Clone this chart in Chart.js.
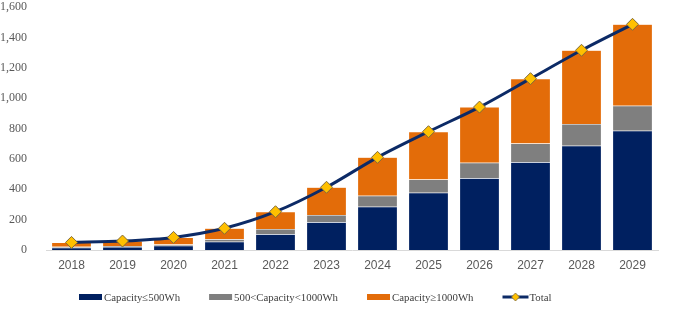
<!DOCTYPE html>
<html>
<head>
<meta charset="utf-8">
<script src="https://cdn.jsdelivr.net/npm/chart.js@4"></script>
<style>
  html, body { margin: 0; padding: 0; background: #fff; }
  #wrap { width: 681px; height: 322px; }
</style>
</head>
<body>
<div id="wrap"><canvas id="chart"></canvas></div>
<script>
const years = ['2018','2019','2020','2021','2022','2023','2024','2025','2026','2027','2028','2029'];
const small = [15, 20, 28, 55, 103, 182, 285, 377, 472, 577, 687, 785];
const medium = [7, 6, 9, 15, 35, 48, 72, 88, 103, 125, 143, 165];
const large = [28, 33, 46, 73, 114, 183, 253, 314, 366, 426, 485, 536];
const total = [50, 59, 83, 143, 252, 413, 610, 779, 941, 1128, 1315, 1486];

const NAVY = '#002060', GREY = '#7f7f7f', ORANGE = '#e36c09', LINE = '#0c2a66', GOLD = '#ffc000';

// legend drawn by hand so the spacing matches the original
const bottomLegend = {
  id: 'bottomLegend',
  afterDraw(chart) {
    const ctx = chart.ctx;
    const y = 297;
    let x = 79;
    ctx.save();
    ctx.font = '10.8px "Liberation Serif"';
    ctx.textBaseline = 'middle';
    [1, 2, 3, 0].forEach(i => {
      const ds = chart.data.datasets[i];
      if (ds.type === 'line') {
        ctx.strokeStyle = LINE; ctx.lineWidth = 3;
        ctx.beginPath(); ctx.moveTo(x, y); ctx.lineTo(x + 26, y); ctx.stroke();
        ctx.fillStyle = GOLD; ctx.strokeStyle = '#7f6a3a'; ctx.lineWidth = 0.8;
        ctx.beginPath();
        ctx.moveTo(x + 13, y - 4); ctx.lineTo(x + 17, y); ctx.lineTo(x + 13, y + 4); ctx.lineTo(x + 9, y);
        ctx.closePath(); ctx.fill(); ctx.stroke();
        x += 27;
      } else {
        ctx.fillStyle = ds.backgroundColor;
        ctx.fillRect(x, y - 3, 23, 6);
        x += 25;
      }
      ctx.fillStyle = '#404040';
      ctx.fillText(ds.label, x, y + 1);
      x += ctx.measureText(ds.label).width + 29;
    });
    ctx.restore();
  }
};

new Chart(document.getElementById('chart'), {
  data: {
    labels: years,
    datasets: [
      {
        type: 'line',
        label: 'Total',
        data: total,
        borderColor: LINE,
        borderWidth: 3,
        tension: 0.3,
        pointStyle: 'rectRot',
        pointRadius: 6,
        pointBackgroundColor: GOLD,
        pointBorderColor: '#7f6a3a',
        pointBorderWidth: 1,
        order: 0
      },
      { type: 'bar', label: 'Capacity≤500Wh', data: small, backgroundColor: NAVY, borderColor: 'rgba(255,255,255,0.5)', borderWidth: 0.5, stack: 's', order: 1 },
      { type: 'bar', label: '500<Capacity<1000Wh', data: medium, backgroundColor: GREY, borderColor: 'rgba(255,255,255,0.5)', borderWidth: 0.5, stack: 's', order: 1 },
      { type: 'bar', label: 'Capacity≥1000Wh', data: large, backgroundColor: ORANGE, borderColor: 'rgba(255,255,255,0.5)', borderWidth: 0.5, stack: 's', order: 1 }
    ]
  },
  plugins: [bottomLegend],
  options: {
    responsive: true,
    maintainAspectRatio: false,
    animation: false,
    layout: { padding: { top: 0, right: 23, left: 0, bottom: 42 } },
    datasets: { bar: { barPercentage: 0.78, categoryPercentage: 1 } },
    scales: {
      x: {
        stacked: true,
        grid: { display: false, drawTicks: false },
        border: { color: '#d9d9d9', width: 1 },
        afterFit: s => { s.height = 30; },
        ticks: { color: '#595959', font: { family: 'Liberation Sans', size: 12 }, padding: 8 }
      },
      y: {
        stacked: true,
        min: 0, max: 1600,
        grid: { display: false },
        border: { display: false },
        afterFit: s => { s.width = 46; s.paddingTop = 7; s.paddingBottom = 0; },
        ticks: { stepSize: 200, color: '#595959', padding: 11, font: { family: 'Liberation Serif', size: 12 } }
      }
    },
    plugins: {
      legend: { display: false },
      tooltip: { enabled: false }
    }
  }
});
</script>
</body>
</html>
